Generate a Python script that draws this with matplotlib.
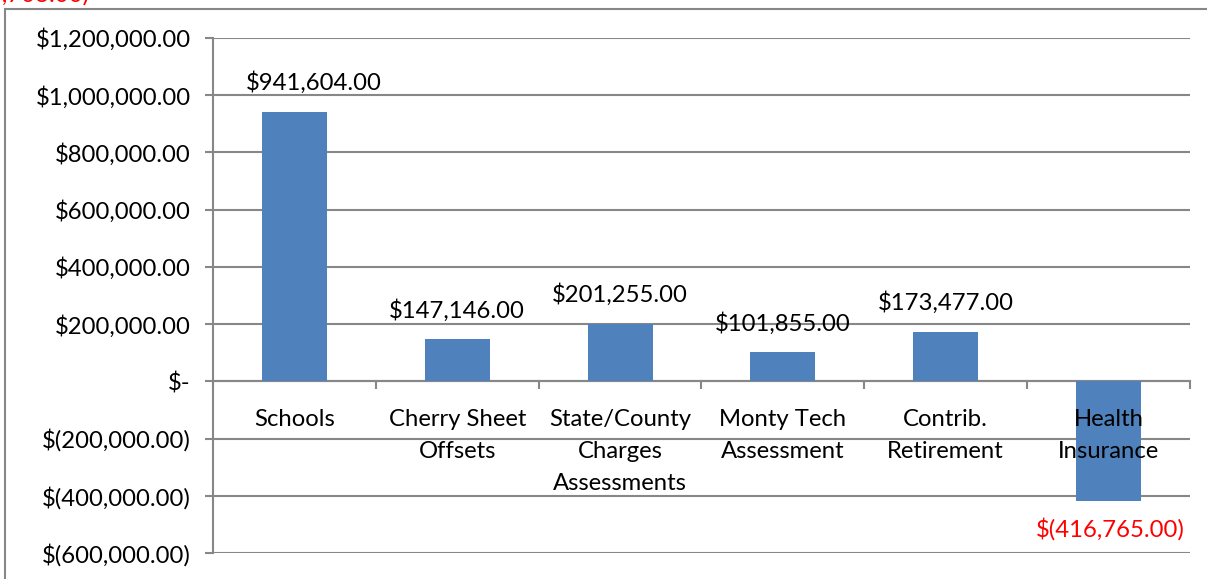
import matplotlib
matplotlib.use("Agg")
import matplotlib.pyplot as plt
import matplotlib.ticker as ticker
from matplotlib.lines import Line2D

categories = ["Schools", "Cherry Sheet\nOffsets", "State/County\nCharges\nAssessments",
              "Monty Tech\nAssessment", "Contrib.\nRetirement", "Health\nInsurance"]
values = [941604, 147146, 201255, 101855, 173477, -416765]

bar_color = "#4F81BD"
grid_color = "#878787"
plt.rcParams["font.family"] = ["Lato", "DejaVu Sans"]
fs = 17.2
px = 72 / 100  # points per pixel


def money(v, _=None):
    if v == 0:
        return "$-"
    if v < 0:
        return f"$({abs(v):,.2f})"
    return f"${v:,.2f}"


fig = plt.figure(figsize=(12.07, 5.79), dpi=100)
ax = fig.add_axes([213 / 1207, 1 - 553 / 579, (1190 - 213) / 1207, (553 - 38) / 579])

x = list(range(len(values)))
ax.bar(x, values, width=0.4, color=bar_color, zorder=3)

ax.set_xlim(-0.5, len(values) - 0.5)
ax.set_ylim(-600000, 1200000)
ax.yaxis.set_major_locator(ticker.MultipleLocator(200000))
ax.yaxis.set_major_formatter(ticker.FuncFormatter(money))
ax.grid(axis="y", color=grid_color, linewidth=1.5, zorder=0)

for s in ["top", "right"]:
    ax.spines[s].set_visible(False)
ax.spines["left"].set_color(grid_color)
ax.spines["left"].set_linewidth(1.5)
ax.spines["bottom"].set_position(("data", 0))
ax.spines["bottom"].set_color(grid_color)
ax.spines["bottom"].set_linewidth(1.5)

# boundary ticks on the zero line
ax.set_xticks([i - 0.5 for i in range(len(values) + 1)])
ax.set_xticklabels([])
ax.tick_params(axis="x", direction="out", length=6, width=1.5, color=grid_color)
ax.tick_params(axis="y", direction="out", length=6, width=1.5, color=grid_color,
               labelsize=fs, pad=10)

# category labels drawn above bars and gridlines
for xi, name in zip(x, categories):
    ax.annotate(name, (xi, 0), xytext=(0, -28 * px), textcoords="offset points",
                ha="center", va="top", fontsize=fs, linespacing=1.65, zorder=5)

# value labels (the Schools one sits a little right of its bar)
label_dx = [19, 0, 0, 0, 0, 2]
for xi, v, dx in zip(x, values, label_dx):
    dy = 29 if v >= 0 else -29
    ax.annotate(money(v), (xi, v), xytext=(dx * px, dy * px), textcoords="offset points",
                ha="center", va="center", fontsize=fs, zorder=5,
                color="black" if v >= 0 else "red")

# outer chart border (partly cut off)
fig.add_artist(Line2D([5 / 1207, 5 / 1207], [0, 1 - 9 / 579], color=grid_color, linewidth=1.5))
fig.add_artist(Line2D([5 / 1207, 1], [1 - 9 / 579, 1 - 9 / 579], color=grid_color, linewidth=1.5))
# clipped red label at the top edge
fig.text(-0.01, 1 + 5 / 579, "0,703.00)", color="red", fontsize=fs, va="center", ha="left")

fig.savefig("out.png", dpi=100)
